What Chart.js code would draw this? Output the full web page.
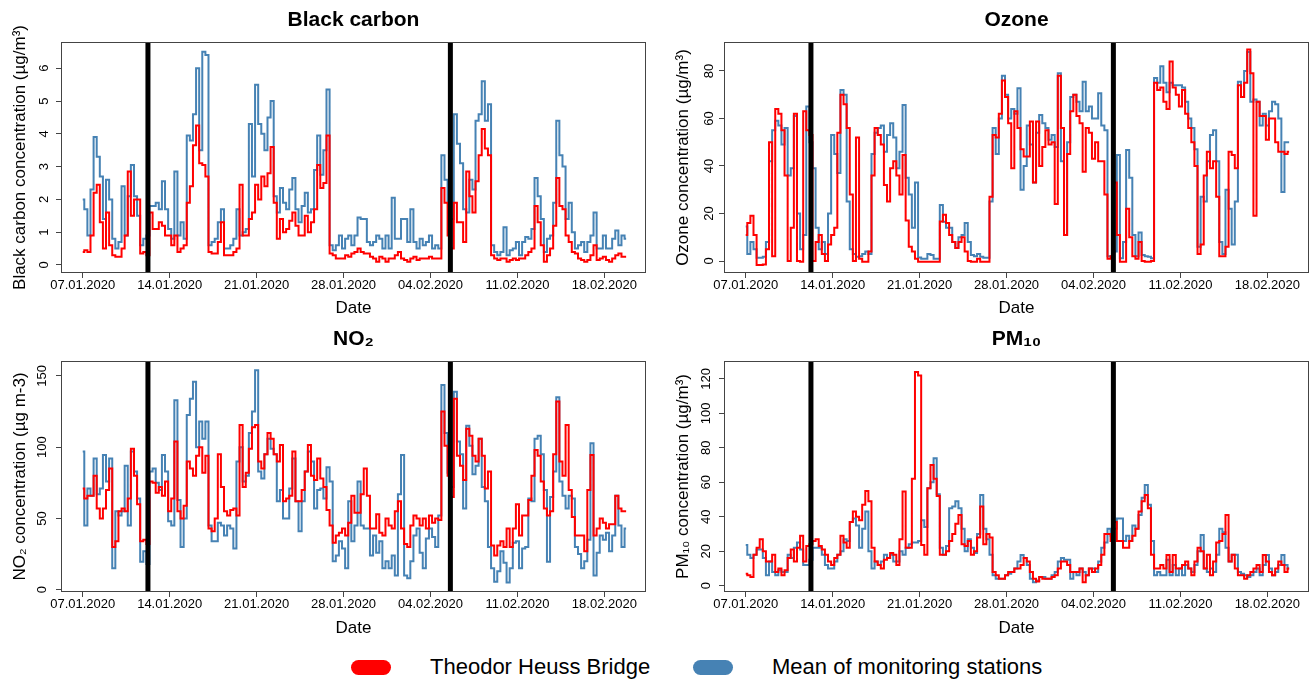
<!DOCTYPE html>
<html>
<head>
<meta charset="utf-8">
<script src="https://cdn.jsdelivr.net/npm/chart.js@4.4.0/dist/chart.umd.min.js"></script>
<style>
  body { margin: 0; background: #fff; width: 1312px; height: 683px; position: relative; overflow: hidden; font-family: "Liberation Sans", Arial, sans-serif; }
  .panel { position: absolute; width: 656px; height: 320px; }
  .key { position: absolute; top: 660px; width: 40px; height: 15px; border-radius: 8px; }
  .lab { position: absolute; top: 654px; font-size: 22px; line-height: 26px; color: #000; white-space: nowrap; }
</style>
</head>
<body>
<div class="panel" style="left:0;top:0"><canvas id="bc"></canvas></div>
<div class="panel" style="left:656px;top:0"><canvas id="o3"></canvas></div>
<div class="panel" style="left:0;top:320px"><canvas id="no2"></canvas></div>
<div class="panel" style="left:656px;top:320px"><canvas id="pm10"></canvas></div>

<div class="key" style="left:351px;background:#ff0000"></div>
<div class="lab" style="left:430px">Theodor Heuss Bridge</div>
<div class="key" style="left:693px;background:#4682b4"></div>
<div class="lab" style="left:772px">Mean of monitoring stations</div>

<script>
// days since 07.01.2020, one value every 6 hours
const STEP = 0.25;
const dayTicks = [0, 7, 14, 21, 28, 35, 42];
const tickLabels = ['07.01.2020', '14.01.2020', '21.01.2020', '28.01.2020', '04.02.2020', '11.02.2020', '18.02.2020'];
const eventDays = [5.25, 29.6];

const bcBridge = [
  0.4, 0.45, 0.4, 0.9, 2.2, 2.45, 1.3, 0.5,
  1.6, 0.6, 0.3, 0.25, 0.25, 0.5, 0.9, 2.85,
  1.5, 2.0, 2.0, 0.35, 0.4, 0.3, 1.6, 1.1,
  1.1, 1.3, 1.2, 0.9, 0.9, 0.6, 0.9, 0.4,
  0.5, 0.6, 1.9, 2.4, 3.65, 4.25, 3.1, 3.05,
  2.7, 0.4, 0.35, 0.35, 0.7, 1.3, 0.3, 0.3,
  0.3, 0.4, 0.5, 2.45, 0.9, 0.9, 1.4, 1.6,
  2.45, 2.0, 2.7, 2.4, 2.8, 3.6, 1.9, 0.8,
  1.4, 1.0, 1.1, 1.35, 1.6, 1.2, 0.9, 0.9,
  1.5, 1.0, 1.3, 1.7, 3.05, 2.35, 2.5, 3.95,
  0.35, 0.3, 0.2, 0.2, 0.2, 0.3, 0.25, 0.35,
  0.4, 0.5, 0.4, 0.35, 0.35, 0.25, 0.2, 0.1,
  0.25, 0.2, 0.1, 0.2, 0.2, 0.3, 0.4, 0.2,
  0.15, 0.1, 0.2, 0.25, 0.15, 0.2, 0.2, 0.2,
  0.25, 0.2, 0.2, 0.2, 2.35, 1.9, 0.9, 0.5,
  1.9, 1.3, 1.3, 0.7, 2.85, 2.1, 1.6, 2.55,
  3.35, 4.15, 3.55, 3.35, 0.3, 0.2, 0.15, 0.2,
  0.2, 0.1, 0.15, 0.2, 0.15, 0.2, 0.2, 0.3,
  0.4, 0.5, 1.8, 1.3, 0.6, 0.1, 0.3, 0.5,
  1.2, 2.65, 1.8, 1.7, 0.9, 0.7, 0.4, 0.35,
  0.2, 0.15, 0.1, 0.15, 0.3, 0.6, 0.15, 0.2,
  0.25, 0.15, 0.1, 0.2, 0.3, 0.35, 0.25, 0.25
];
const bcStations = [
  2.0, 1.7, 0.9, 2.3, 3.9, 3.3, 2.7, 1.4,
  2.6, 2.0, 0.8, 0.5, 0.7, 2.4, 0.9, 2.1,
  3.05, 2.1, 1.5, 0.6, 0.8, 0.9, 1.8, 1.8,
  1.9, 1.7, 2.55, 1.7, 1.1, 0.8, 2.85, 0.9,
  1.3, 0.8, 3.95, 3.8, 4.6, 6.0, 3.5, 6.5,
  6.4, 0.6, 0.7, 0.8, 1.3, 1.7, 0.5, 0.5,
  0.6, 0.8, 1.7, 0.9, 1.0, 1.1, 4.3, 2.7,
  5.5, 4.3, 4.0, 3.5, 4.5, 5.0, 2.1, 1.6,
  2.35, 1.9, 1.7, 2.3, 2.65, 1.7, 1.3, 1.8,
  2.2, 1.6, 1.7, 2.9, 3.95, 2.75, 3.5, 5.35,
  0.6, 0.45, 0.6, 0.9, 0.5, 0.8, 0.9, 0.6,
  0.9, 1.45, 1.4, 1.4, 0.7, 0.6, 0.7, 0.9,
  0.8, 0.5, 0.9, 0.5, 2.05, 0.8, 0.8, 1.4,
  1.4, 0.7, 1.7, 0.7, 0.5, 0.8, 0.6, 0.7,
  0.9, 0.5, 0.6, 0.5, 3.35, 2.6, 1.9, 1.4,
  4.6, 3.7, 3.1, 1.7, 1.6, 2.6, 2.3, 4.4,
  4.6, 5.6, 4.4, 4.9, 0.6, 0.4, 0.3, 0.4,
  1.15, 0.3, 0.45, 0.5, 0.7, 0.3, 0.7, 0.85,
  0.8, 1.1, 2.65, 2.1, 1.4, 0.4, 0.8, 0.9,
  1.9, 4.4, 3.35, 3.0, 1.4, 1.9, 1.0, 0.5,
  0.6, 0.7, 0.4, 0.7, 0.9, 1.6, 0.5, 0.5,
  0.9, 0.5, 0.5, 0.8, 1.05, 0.6, 0.9, 0.8
];

const o3Bridge = [
  11, 16, 19, 11, -1.7, -1.7, -1.5, 5,
  50, 2, 64, 62, 55, 36, 0, 14,
  62, 0, -0.3, 63, 55, 53, 0, 8,
  11, 3, 0, 7, 11, 14, 54, 70,
  66, 56, 28, 0, 52, 1, -0.3, -0.3,
  4, 36, 56, 53, 49, 32, 25, 39,
  42, 36, 28, 44.6, 17, 6, 4, 1,
  -0.3, -0.3, -0.3, -0.3, -0.3, -0.3, -0.3, 16.6,
  19.5, 16, 11, 8, 5.5, 8, 10, 4,
  0, -0.3, -0.3, 1, -0.3, -0.3, -0.3, 27,
  53, 52, 62, 76, 69, 58, 39, 63,
  56, 47, 44, 44, 58.7, 33, 58.7, 40,
  48, 55, 49, 50, 24, 78, 56, 11,
  45, 63, 70, 61, 58, 37.6, 56, 54,
  43, 50, 42, 42, 28, 1, 2, 33,
  11, -0.3, -0.3, 22, 10, 2, 1, 8,
  0, -0.3, -0.3, 0, 75, 72, 73, 67,
  64, 84, 73, 70, 65, 72, 62, 56,
  50, 40, 3, 7, 36, 46, 39, 42,
  27, 2, 2, 6, 46, 44.6, 39, 74,
  69, 75, 89, 79, 19, 67, 61, 61,
  51, 60, 60, 50, 46, 46, 45, 46
];
const o3Stations = [
  14.5, 3, 8, 5, 1.4, 1.4, 1.8, 8,
  42, 55, 59, 57, 49, 56, 36, 39,
  61, 20, 5, 11, 65, 50, 39, 14,
  5, 8, 3, 20, 53, 45, 37, 72,
  70, 25, 5, 3, 1.8, 2, 3, 4,
  3, 45, 54, 56, 57, 46, 53, 58,
  52, 39, 46, 65.7, 35, 28, 14, 33,
  1.5, 1, 1, 3, 2.5, 1, 1, 23.6,
  16.5, 14, 14, 8, 5.5, 10, 11, 16,
  8, 2.5, 2, 3, 1.8, 1.4, 1.4, 25,
  56, 45, 60, 78, 70, 60, 64, 62,
  72.7, 30, 40, 57, 49, 33, 54, 61.5,
  58, 56, 51, 53, 48, 79, 42, 11,
  50, 69, 70, 67, 63, 75.5, 63, 65,
  60, 60, 70.6, 57, 55, 2, 2, 4,
  44.6, 1.2, 8, 46.7, 35, 11, 2, 12,
  2.5, 2, 1.8, 1.2, 77, 75, 82, 75,
  71, 75, 74, 74, 74, 73, 67, 60,
  56, 47, 6, 27, 25, 42, 53, 55,
  42, 8, 3, 30, 22, 7, 25, 75.5,
  69, 80, 88, 67, 68, 67, 57, 62,
  57, 63, 67, 66, 60, 29, 50, 50
];

const no2Bridge = [
  71, 64, 66, 66, 80, 57, 50, 57,
  70, 85, 30, 34, 55, 57, 55, 64,
  99, 80, 60, 34, 35, 32, 76, 75,
  68, 72, 66, 76, 55, 64, 104, 55,
  50, 59, 90, 85, 80, 94, 100, 82,
  94, 43, 41, 50, 95, 72, 55, 52,
  56, 57, 52, 115.6, 72, 82, 99, 114,
  115.6, 90, 85, 95, 110, 106, 95, 90,
  101.5, 62, 64, 66, 97, 62, 62, 70,
  83, 101.5, 80, 77, 92, 78, 72, 56,
  45, 33, 38, 40, 43, 38, 47, 66,
  54, 54, 67, 85, 66, 43, 43, 53,
  40, 38, 50, 45, 43, 55, 62, 43,
  32, 30, 45, 52, 50, 45, 50, 43,
  52, 47, 50, 49, 125, 101, 80, 65,
  134, 94, 87, 77, 113, 108, 94, 90,
  106, 94, 71, 83, 31, 24, 31, 34,
  30, 43, 30, 43, 60, 38, 52, 52,
  63, 80, 98, 94, 76, 57, 52, 55,
  95, 132, 90, 80, 115.6, 70, 51, 38,
  38, 38, 27, 70, 94.5, 38, 43, 50,
  47, 43, 46, 46, 66, 57, 55, 55
];
const no2Stations = [
  97, 45, 71, 66, 92, 67, 71, 94.5,
  76, 92, 15, 55, 52, 55, 87, 45,
  97, 83, 64, 19.6, 27, 18, 83, 85,
  75, 70, 94.5, 83, 48, 45, 133, 63,
  30, 50, 122.6, 134, 146, 100, 118, 106,
  118, 45, 34, 34, 47, 45, 38, 45,
  43, 29, 90, 100, 76, 80, 110, 125,
  154, 83, 78, 95, 106, 99, 95, 62,
  70, 50, 50, 71, 92, 62, 41, 62,
  83, 97, 90, 57, 70, 71, 64, 86,
  76, 20, 24, 34, 29, 15, 62, 34,
  45, 76, 45, 43, 43, 24, 38, 26,
  34, 15, 20, 15, 24, 10, 67, 94.5,
  10, 8, 20, 38, 43, 26, 15, 36,
  43, 37, 30, 52, 143.6, 110, 82, 72,
  139, 104, 95, 57, 115, 101, 81, 87,
  106, 72, 62, 30, 15, 5.6, 13, 27,
  19, 5, 15, 33, 34, 15, 29, 30,
  64, 62, 106, 108, 95, 70, 19.6, 65,
  83, 135, 76, 66, 57, 66, 64, 30,
  25, 15, 20, 35, 102.7, 10, 26, 38,
  35, 40, 27, 38, 66, 45, 30, 43
];

const pm10Bridge = [
  7, 6, 5, 18, 22, 27, 20, 14,
  14, 18, 8, 10, 6, 9, 16, 21,
  14, 22, 29, 14, 23, 24, 26, 27,
  23, 21, 18, 14, 12, 16, 18, 29,
  25, 22, 37, 43, 40, 38, 47, 55,
  49, 22, 14, 12, 10, 15, 16, 19,
  18, 12, 27, 54.6, 22, 22, 62, 124,
  122, 23.6, 18, 56.5, 70, 62, 52, 18,
  18, 20, 26, 30, 36, 41, 24, 23,
  26, 18, 20, 28, 46, 24, 30, 28,
  8, 6, 4, 4, 6, 8, 8, 10,
  10, 12, 16, 14, 8, 4, 2.5, 5,
  4, 4, 4, 5, 6, 10, 14, 14,
  12, 8, 8, 8, 10, 2, 6, 10,
  8, 10, 12, 18, 30, 30, 26, 37,
  26, 26, 22, 22, 26, 29, 33, 43,
  49, 52.6, 45, 18, 10, 10, 12, 10,
  17.8, 8, 17.8, 10, 10, 12, 14, 10,
  6, 14, 22, 20, 10, 18, 6, 14,
  25, 26, 30, 41, 14, 18, 10, 6,
  6, 4, 6, 8, 10, 12, 8, 17.8,
  14, 8, 6, 10, 14, 12, 8, 10
];
const pm10Stations = [
  23.6, 18, 16, 18, 21, 21, 16, 6,
  14, 8, 6, 9, 8, 8, 18, 16,
  22, 25, 21, 12, 12, 15, 22, 22,
  22, 18, 12, 10, 10, 14, 18, 20,
  27, 26, 37, 39, 35, 22, 33, 43,
  20, 10, 14, 12, 14, 18, 16, 18,
  14, 14, 20, 18, 22, 24, 25, 25,
  26, 38, 34, 56.5, 60, 74, 53, 22,
  18, 23, 45, 46, 49, 45, 33, 20,
  27, 22, 19, 30, 52.6, 33, 27, 18,
  6, 4, 4, 4, 6, 7, 8, 10,
  14, 17.8, 16, 12, 4, 2, 3, 5,
  5, 4, 4, 6, 8, 14, 16, 15,
  15, 4, 8, 6, 10, 8, 6, 10,
  10, 8, 14, 22, 25, 33, 29, 33,
  39, 39, 26, 29, 26, 35, 33, 41,
  51, 58.4, 47, 26, 6, 8, 6, 6,
  15, 6, 12, 6, 10, 6, 12, 10,
  8, 12, 20, 29.4, 10, 8, 10, 8,
  18, 33, 31, 22, 14, 18, 18, 8,
  7, 6, 5, 6, 8, 10, 6, 12,
  17.8, 10, 6, 8, 12, 17.8, 12, 10
];

const FONT = '"Liberation Sans", Arial, sans-serif';

function toPoints(arr) {
  return arr.map((v, i) => ({ x: i * STEP, y: v }));
}

// box around the plot and the two thick event lines
const framePlugin = {
  id: 'frame',
  afterDatasetsDraw(chart) {
    const { ctx, chartArea: a, scales: { x } } = chart;
    ctx.save();
    ctx.strokeStyle = '#000';
    ctx.lineWidth = 5;
    eventDays.forEach(d => {
      const px = x.getPixelForValue(d);
      ctx.beginPath();
      ctx.moveTo(px, a.top);
      ctx.lineTo(px, a.bottom);
      ctx.stroke();
    });
    ctx.strokeStyle = '#444';
    ctx.lineWidth = 1;
    ctx.strokeRect(a.left + 0.5, a.top + 0.5, a.right - a.left - 1, a.bottom - a.top - 1);
    ctx.restore();
  }
};

function makePanel(id, p) {
  new Chart(document.getElementById(id), {
    type: 'line',
    data: {
      datasets: [
        { label: 'Theodor Heuss Bridge', data: toPoints(p.bridge), borderColor: '#ff0000', borderWidth: 2, pointRadius: 0, stepped: 'middle' },
        { label: 'Mean of monitoring stations', data: toPoints(p.stations), borderColor: '#4682b4', borderWidth: 2, pointRadius: 0, stepped: 'middle' }
      ]
    },
    options: {
      animation: false,
      responsive: true,
      maintainAspectRatio: false,
      layout: { padding: { left: 0, right: p.padRight, top: 0, bottom: 0 } },
      plugins: {
        legend: { display: false },
        tooltip: { enabled: false },
        title: {
          display: true, text: p.title, fullSize: false, color: '#000',
          font: { family: FONT, size: 21, weight: 'bold' },
          padding: { top: p.titleTop, bottom: p.titleBottom }
        }
      },
      scales: {
        x: {
          type: 'linear', min: -1.75, max: 45.35,
          afterBuildTicks: s => { s.ticks = dayTicks.map(v => ({ value: v })); },
          afterFit: s => { s.height = p.xHeight; },
          ticks: {
            callback: v => tickLabels[dayTicks.indexOf(v)],
            maxRotation: 0, autoSkip: false, padding: 0, color: '#000',
            font: { family: FONT, size: 13 }
          },
          grid: { drawOnChartArea: false, drawTicks: true, tickLength: 5, color: '#444' },
          border: { display: false },
          title: { display: true, text: 'Date', color: '#000', font: { family: FONT, size: 17 }, padding: { top: 0, bottom: 1 } }
        },
        y: {
          type: 'linear', min: p.yMin, max: p.yMax,
          afterBuildTicks: s => { s.ticks = p.yTicks.map(v => ({ value: v })); },
          afterFit: s => { s.width = p.yWidth; },
          ticks: {
            minRotation: 90, maxRotation: 90, crossAlign: 'center', padding: p.yTickPad, color: '#000',
            font: { family: FONT, size: 13 }
          },
          grid: { drawOnChartArea: false, drawTicks: true, tickLength: 5, color: '#444' },
          border: { display: false },
          title: { display: true, text: p.yLabel, color: '#000', font: { family: FONT, size: 17 }, padding: { top: p.yTitlePad, bottom: 0 } }
        }
      }
    },
    plugins: [framePlugin]
  });
}

makePanel('bc', {
  title: 'Black carbon', yLabel: 'Black carbon concentration (µg/m³)',
  bridge: bcBridge, stations: bcStations,
  yMin: -0.244, yMax: 6.8, yTicks: [0, 1, 2, 3, 4, 5, 6],
  yWidth: 61, padRight: 10, xHeight: 47, titleTop: 8, titleBottom: 8.8, yTickPad: 8, yTitlePad: 10
});
makePanel('o3', {
  title: 'Ozone', yLabel: 'Ozone concentration (µg/m³)',
  bridge: o3Bridge, stations: o3Stations,
  yMin: -5.05, yMax: 92.2, yTicks: [0, 20, 40, 60, 80],
  yWidth: 68, padRight: 3, xHeight: 47, titleTop: 8, titleBottom: 8.8, yTickPad: 2, yTitlePad: 17
});
makePanel('no2', {
  title: 'NO₂', yLabel: 'NO₂ concentration (µg m-3)',
  bridge: no2Bridge, stations: no2Stations,
  yMin: -1.6, yMax: 160.5, yTicks: [0, 50, 100, 150],
  yWidth: 61, padRight: 10, xHeight: 48, titleTop: 7, titleBottom: 8.8, yTickPad: 3, yTitlePad: 10
});
makePanel('pm10', {
  title: 'PM₁₀', yLabel: 'PM₁₀ concentration (µg/m³)',
  bridge: pm10Bridge, stations: pm10Stations,
  yMin: -3.66, yMax: 130.4, yTicks: [0, 20, 40, 60, 80, 100, 120],
  yWidth: 68, padRight: 3, xHeight: 48, titleTop: 7, titleBottom: 8.8, yTickPad: 2, yTitlePad: 17
});
</script>
</body>
</html>
